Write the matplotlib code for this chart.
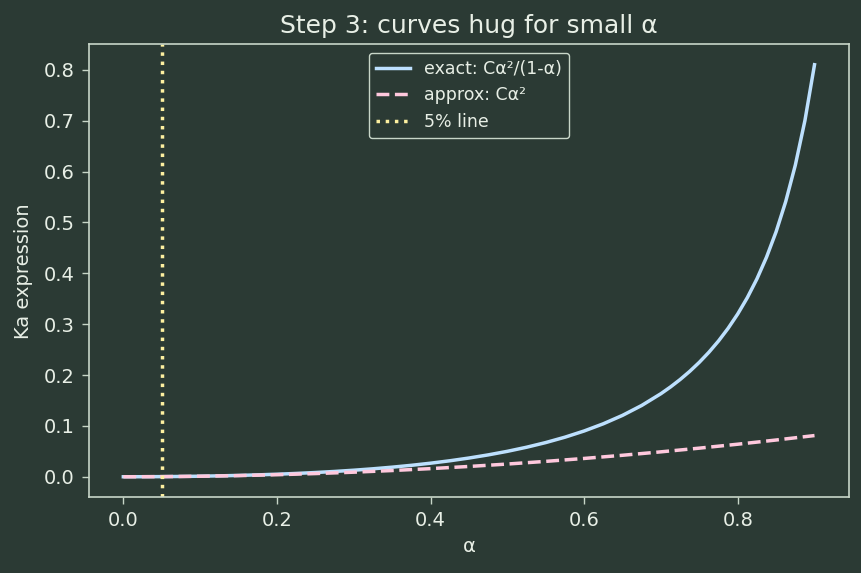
import matplotlib
matplotlib.use('Agg')
import matplotlib.pyplot as plt

# Ka values (C = 0.1)
alpha_exact = [0.0, 0.025, 0.05, 0.075, 0.1, 0.125, 0.15, 0.175, 0.2, 0.225, 0.25,
               0.275, 0.3, 0.325, 0.35, 0.375, 0.4, 0.425, 0.45, 0.475, 0.5, 0.525,
               0.55, 0.575, 0.6, 0.625, 0.65, 0.675, 0.7, 0.7125, 0.725, 0.7375, 0.75,
               0.7625, 0.775, 0.7875, 0.8, 0.8125, 0.825, 0.8375, 0.85, 0.8625, 0.875,
               0.8875, 0.9]
ka_exact = [0.0, 0.00006, 0.00026, 0.00061, 0.00111, 0.00179, 0.00265, 0.00371, 0.005,
            0.00653, 0.00833, 0.01043, 0.01286, 0.01565, 0.01885, 0.0225, 0.02667,
            0.03141, 0.03682, 0.04298, 0.05, 0.05803, 0.06722, 0.07779, 0.09, 0.10417,
            0.12071, 0.14019, 0.16333, 0.17658, 0.19114, 0.2072, 0.225, 0.2448, 0.26694,
            0.29184, 0.32, 0.35208, 0.38893, 0.43164, 0.48167, 0.54102, 0.6125, 0.70014,
            0.81]
alpha_approx = [0.0, 0.05, 0.1, 0.15, 0.2, 0.25, 0.3, 0.35, 0.4, 0.45, 0.5, 0.55, 0.6,
                0.65, 0.7, 0.75, 0.8, 0.85, 0.9]
ka_approx = [0.0, 0.00025, 0.001, 0.00225, 0.004, 0.00625, 0.009, 0.01225, 0.016,
             0.02025, 0.025, 0.03025, 0.036, 0.04225, 0.049, 0.05625, 0.064, 0.07225,
             0.081]
five_pct = 0.05

bg = '#2b3a34'
fg = '#e8efe6'
spine = '#c8d6c8'

fig, ax = plt.subplots(figsize=(8.62, 5.73), dpi=100)
fig.patch.set_facecolor(bg)
ax.set_facecolor(bg)

ax.plot(alpha_exact, ka_exact, color='#bde0fe', lw=2.5, label='exact: Cα²/(1-α)')
ax.plot(alpha_approx, ka_approx, color='#ffc8dd', lw=2.5, ls='--', label='approx: Cα²')
ax.axvline(five_pct, color='#fdf0a0', lw=2.5, ls=':', label='5% line')

ax.set_title('Step 3: curves hug for small α', color=fg, fontsize=18, pad=8)
ax.set_xlabel('α', color=fg, fontsize=14, labelpad=5)
ax.set_ylabel('Ka expression', color=fg, fontsize=14, labelpad=8)
ax.tick_params(colors=spine, labelcolor=fg, labelsize=14, length=5, width=1.0, pad=5)
for s in ax.spines.values():
    s.set_color(spine)
    s.set_linewidth(1.2)

leg = ax.legend(loc='upper center', fontsize=12.5, facecolor=bg, edgecolor=spine,
                labelcolor=fg, framealpha=1)

plt.subplots_adjust(left=0.103, right=0.985, top=0.923, bottom=0.132)
plt.savefig('out.png', facecolor=bg)
